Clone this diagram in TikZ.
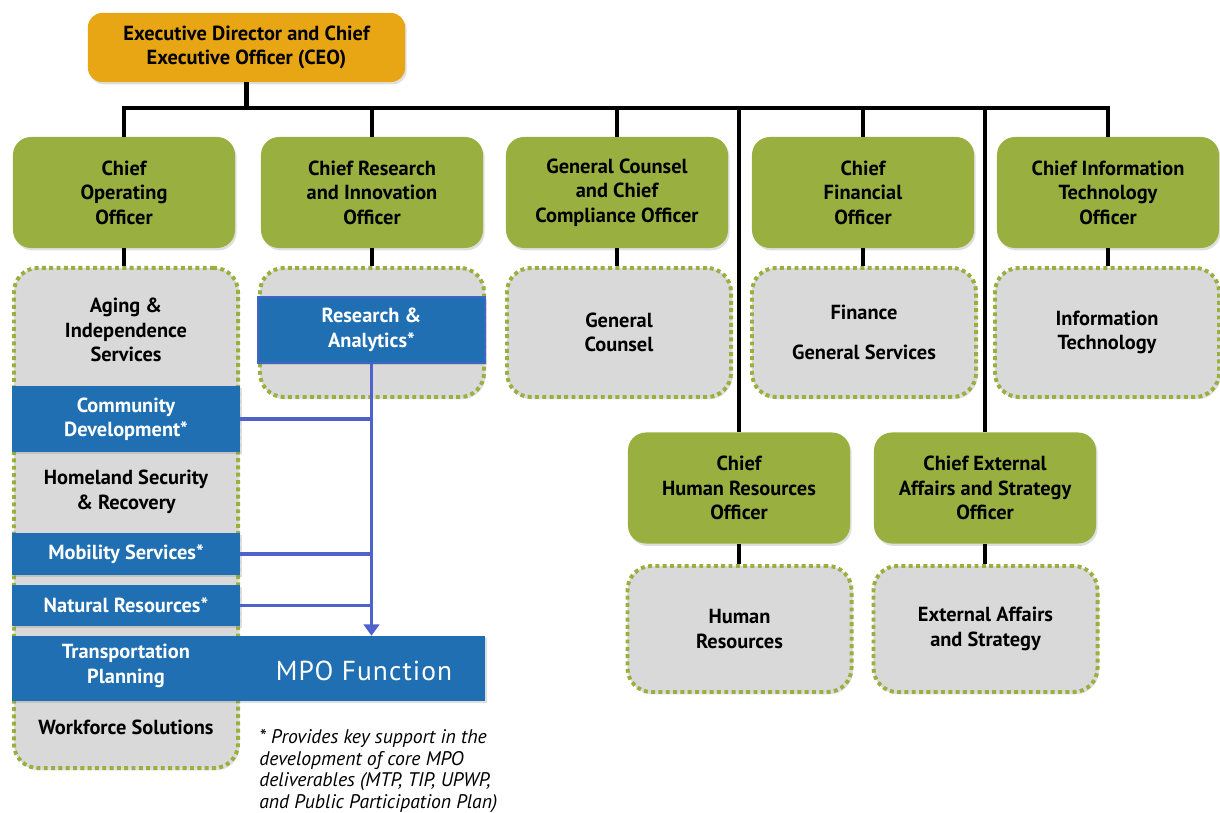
\documentclass[tikz,border=0pt]{standalone}
\usepackage{fontspec}
\setmainfont{PT Sans}
\usetikzlibrary{arrows.meta,shadows}

\definecolor{ceoorange}{RGB}{232,165,20}
\definecolor{officergreen}{RGB}{153,175,63}
\definecolor{divgray}{RGB}{217,217,217}
\definecolor{unitblue}{RGB}{31,111,178}
\definecolor{linkblue}{RGB}{79,97,205}

\newcommand{\orgfont}{\bfseries\fontsize{14.5}{17.4}\selectfont}

\tikzset{
  softshadow/.style={drop shadow={opacity=0.25, shadow xshift=0.4mm, shadow yshift=-0.6mm}},
  ceobox/.style={rectangle, rounded corners=0.35cm, fill=ceoorange, minimum width=7.925cm,
    minimum height=1.725cm, align=center, font=\orgfont, softshadow},
  officer/.style={rectangle, rounded corners=0.45cm, fill=officergreen, minimum width=5.55cm,
    minimum height=2.775cm, align=center, font=\orgfont, softshadow},
  division/.style={rectangle, rounded corners=0.6cm, fill=divgray, draw=officergreen,
    line width=2.8pt, dash pattern=on 2.8pt off 2.4pt, minimum width=5.6cm,
    minimum height=3.225cm, align=center, font=\orgfont, softshadow},
  divtext/.style={align=center, font=\orgfont},
  unit/.style={rectangle, fill=unitblue, text=white, minimum width=5.7cm, align=center,
    font=\orgfont, softshadow},
  orgline/.style={line width=2.9pt, black},
  mpolink/.style={line width=2.6pt, linkblue},
}

\begin{document}
\begin{tikzpicture}[x=0.025cm, y=-0.025cm]
  \useasboundingbox (0,0) rectangle (1220,813);

  % executive
  \node[ceobox] (ceo) at (246.5,47.5) {Executive Director and Chief\\Executive Officer (CEO)};

  % officers
  \node[officer] (coo) at (124,192.5) {Chief\\Operating\\Officer};
  \node[officer] (crio) at (372,192.5) {Chief Research\\and Innovation\\Officer};
  \node[officer] (gcco) at (617,192.5) {General Counsel\\and Chief\\Compliance Officer};
  \node[officer] (cfo) at (863,192.5) {Chief\\Financial\\Officer};
  \node[officer] (cito) at (1108,192.5) {Chief Information\\Technology\\Officer};
  \node[officer] (chro) at (739,488) {Chief\\Human Resources\\Officer};
  \node[officer] (ceaso) at (985,488) {Chief External\\Affairs and Strategy\\Officer};

  % reporting lines
  \coordinate (bus) at (0,108);
  \draw[orgline] (ceo.south) -- (ceo.south |- bus);
  \draw[orgline] (coo.north) |- (bus -| cito.north) -- (cito.north);
  \foreach \n in {crio,gcco,cfo,chro,ceaso}
    \draw[orgline] (bus -| \n.north) -- (\n.north);

  % divisions
  \node[division, minimum height=12.5cm] (coodiv) at (126,518) {};
  \node[division] (criodiv) at (372,332.5) {};
  \node[division] (gcdiv) at (619,332.5) {General\\Counsel};
  \node[division] (cfodiv) at (864,332.5) {Finance\\[0.4cm]General Services};
  \node[division] (citodiv) at (1107,332.5) {Information\\Technology};
  \node[division, minimum height=3.15cm] (hrdiv) at (739.5,629) {Human\\Resources};
  \node[division, minimum height=3.15cm] (eadiv) at (985.5,629) {External Affairs\\and Strategy};

  \foreach \n/\d in {coo/coodiv,crio/criodiv,gcco/gcdiv,cfo/cfodiv,cito/citodiv,chro/hrdiv,ceaso/eadiv}
    \draw[orgline] (\n.south) -- (\n.south |- \d.north);

  % operations column
  \node[divtext] (aging) at (126,330) {Aging \&\\Independence\\Services};
  \node[divtext] (homeland) at (126,492) {Homeland Security\\\& Recovery};
  \node[divtext] (workforce) at (126,727) {Workforce Solutions};

  % MPO support units
  \node[unit, minimum width=5.675cm, minimum height=1.65cm, draw=linkblue!70!unitblue, line width=1pt] (resan) at (371.5,330) {Research \&\\Analytics*};
  \node[unit, minimum height=1.65cm] (commdev) at (126,419) {Community\\Development*};
  \node[unit, minimum height=1.05cm] (mobility) at (126,554) {Mobility Services*};
  \node[unit, minimum height=1.025cm] (natres) at (126,605.5) {Natural Resources*};
  \node[unit, minimum width=11.825cm, minimum height=1.625cm] (mpo) at (248.5,668.5) {};
  \node[divtext, text=white] (transp) at (126,666) {Transportation\\Planning};
  \node[text=white, font=\fontsize{19.5}{22}\selectfont\addfontfeature{LetterSpace=4}] (mpofn) at (364,671) {MPO Function};

  \draw[mpolink, -{Triangle[width=11pt,length=8pt]}] (resan.south) -- (resan.south |- mpo.north);
  \foreach \u in {commdev,mobility,natres}
    \draw[mpolink] (\u.east) -- (\u.east -| resan.south);

  % footnote
  \node[anchor=north west, align=left, inner sep=0pt, font=\itshape\fontsize{14}{15.4}\selectfont] (note) at (259,729)
    {* Provides key support in the\\development of core MPO\\deliverables (MTP, TIP, UPWP,\\and Public Participation Plan)};
\end{tikzpicture}
\end{document}
